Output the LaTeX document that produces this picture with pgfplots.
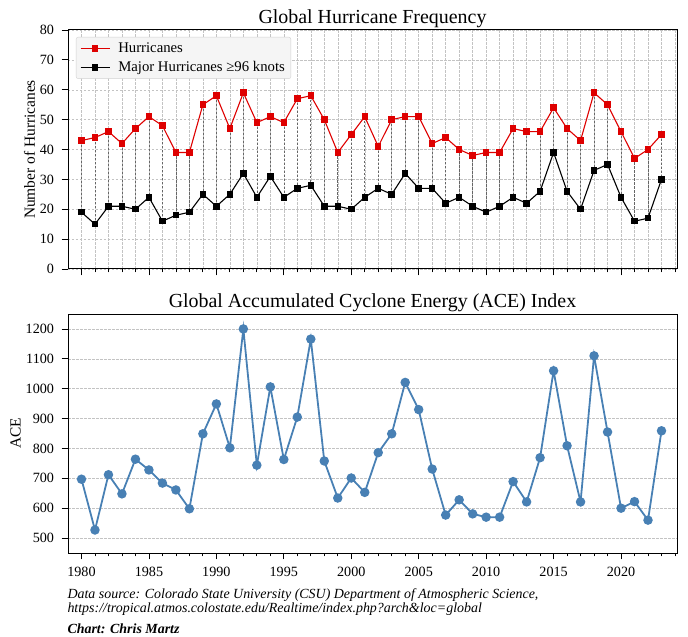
\documentclass[border=0pt]{standalone}
\usepackage{pgfplots}
\pgfplotsset{compat=1.18}
\usepackage{pgfplotstable}
\usepackage{fontspec}
\setmainfont{Liberation Serif}

\definecolor{hurred}{RGB}{222,0,0}
\definecolor{steel}{RGB}{72,128,180}
\definecolor{gridgray}{RGB}{195,195,195}

\pgfplotstableread{
year hur major ace
1980 43 19 697
1981 44 15 527
1982 46 21 712
1983 42 21 648
1984 47 20 764
1985 51 24 728
1986 48 16 684
1987 39 18 661
1988 39 19 598
1989 55 25 849
1990 58 21 949
1991 47 25 802
1992 59 32 1200
1993 49 24 744
1994 51 31 1006
1995 49 24 763
1996 57 27 905
1997 58 28 1166
1998 50 21 758
1999 39 21 634
2000 45 20 701
2001 51 24 653
2002 41 27 786
2003 50 25 849
2004 51 32 1021
2005 51 27 930
2006 42 27 731
2007 44 22 577
2008 40 24 628
2009 38 21 581
2010 39 19 570
2011 39 21 570
2012 47 24 689
2013 46 22 621
2014 46 26 769
2015 54 39 1060
2016 47 26 809
2017 43 20 621
2018 59 33 1110
2019 55 35 855
2020 46 24 600
2021 37 16 622
2022 40 17 560
2023 45 30 859
}\data

\begin{document}
\begin{tikzpicture}
\pgfplotsset{
  common/.style={
    scale only axis, width=609bp, height=239bp,
    xmin=1979, xmax=2024.15,
    axis line style={line width=1pt},
    tick align=outside, tick pos=left,
    xtick={1980,1985,...,2020},
    minor xtick={1980,1981,...,2024},
    /pgf/number format/assume math mode=true,
    /pgf/number format/1000 sep={},
    tick label style={font=\fontsize{14.2}{16}\selectfont},
    xticklabel style={yshift=-4bp},
    yticklabel style={xshift=-4bp},
    major tick length=6.5bp, minor tick length=3.5bp,
    every tick/.style={black, line width=0.8pt},
    title style={font=\fontsize{20}{23}\selectfont, at={(0.5,1)}, anchor=base, yshift=0.5bp},
    label style={font=\fontsize{15.5}{18}\selectfont},
    ylabel shift=-2bp,
    major grid style={gridgray, dash pattern=on 2.5bp off 1.5bp, line width=0.45pt},
    minor grid style={gridgray, dash pattern=on 2.5bp off 1.5bp, line width=0.45pt},
    legend image code/.code={\draw[mark repeat=2,mark phase=2,##1] plot coordinates {(0bp,0bp) (14.5bp,0bp) (29bp,0bp)};},
  }
}
\path[use as bounding box] (-68bp,-84bp) rectangle (620bp,553bp);

\begin{axis}[common, at={(0bp,284bp)}, anchor=south west,
  ymin=0, ymax=80, ytick={0,10,...,80},
  xticklabels={},
  xmajorgrids, xminorgrids, ymajorgrids,
  title={Global Hurricane Frequency},
  ylabel={Number of Hurricanes},
  legend style={at={(0,1)}, anchor=north west, xshift=8bp, yshift=-7bp,
    fill={rgb,255:red,245;green,245;blue,245}, draw={rgb,255:red,210;green,210;blue,210},
    rounded corners=2pt, font=\fontsize{14.8}{17}\selectfont,
    cells={anchor=west}, inner xsep=4bp, inner ysep=3.5bp, row sep=3.5bp, column sep=6bp},
]
\addplot[draw=none, forget plot,
  error bars/.cd, y dir=minus, y explicit,
  error mark=none,
  error bar style={black!60, dash pattern=on 2.5bp off 1.5bp, line width=0.6pt}]
  table[x=year, y=hur, y error expr=\thisrow{hur}-\thisrow{major}] {\data};
\addplot[hurred, line width=1.1pt, mark=square*, mark size=2.7bp, mark options={solid}]
  table[x=year, y=hur] {\data};
\addlegendentry{Hurricanes}
\addplot[black, line width=1.1pt, mark=square*, mark size=2.7bp, mark options={solid}]
  table[x=year, y=major] {\data};
\addlegendentry{Major Hurricanes ≥96 knots}
\end{axis}

\begin{axis}[common, at={(0bp,0bp)}, anchor=south west,
  ymin=450, ymax=1250, ytick={500,600,...,1200},
  ymajorgrids,
  title={Global Accumulated Cyclone Energy (ACE) Index},
  ylabel={ACE},
]
\addplot[steel, line width=1.8pt, mark=*, mark size=3.8bp]
  table[x=year, y=ace] {\data};
\end{axis}

\node[anchor=west, font=\fontsize{14}{16}\selectfont\itshape] at (-4bp,-42bp)
  {Data source: Colorado State University (CSU) Department of Atmospheric Science,};
\node[anchor=west, font=\fontsize{14}{16}\selectfont\itshape] at (-4bp,-56bp)
  {https://tropical.atmos.colostate.edu/Realtime/index.php?arch\&loc=global};
\node[anchor=west, font=\fontsize{14}{16}\selectfont\bfseries\itshape] at (-4bp,-76bp)
  {Chart: Chris Martz};
\end{tikzpicture}
\end{document}
